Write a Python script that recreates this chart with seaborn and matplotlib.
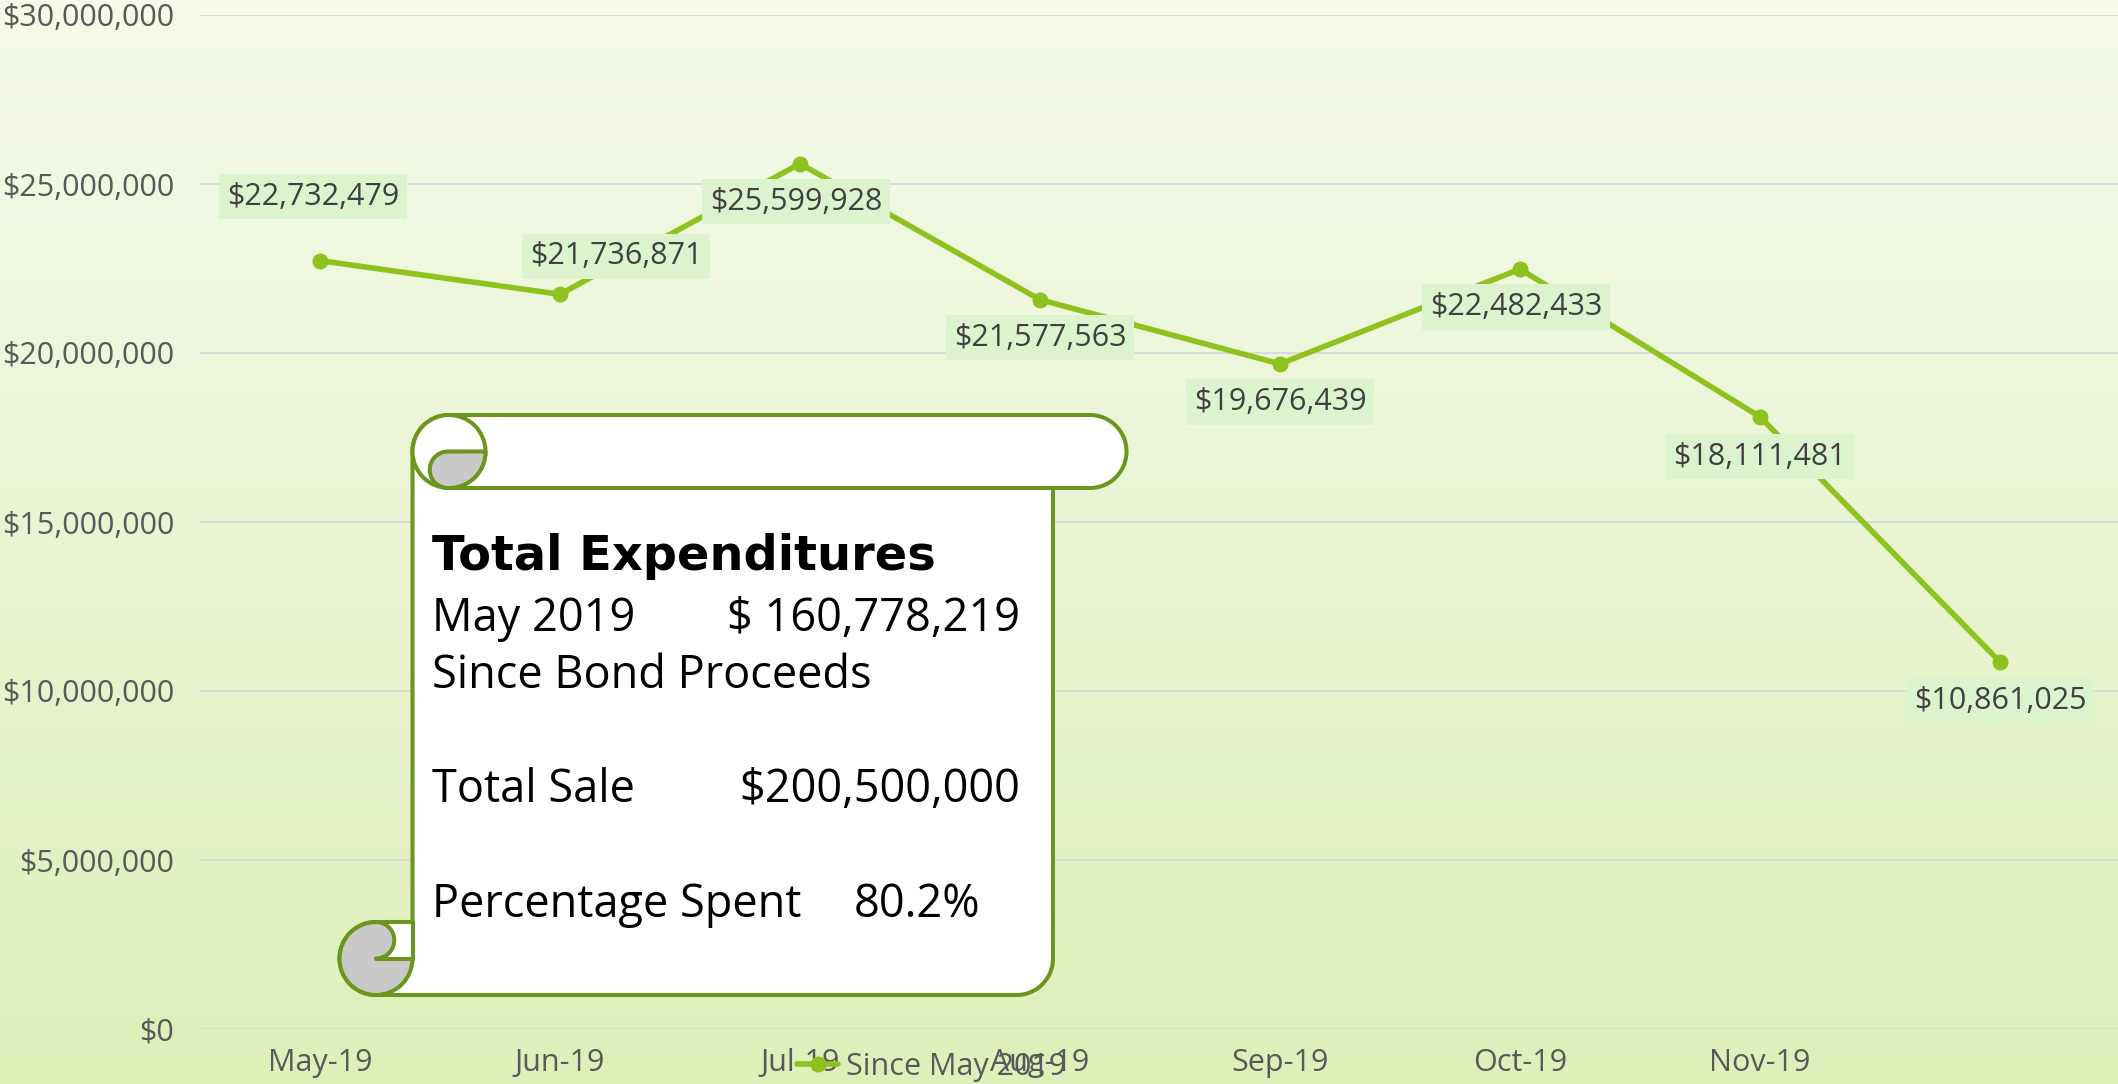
import numpy as np
import pandas as pd
import matplotlib
matplotlib.use("Agg")
import matplotlib.pyplot as plt
import seaborn as sns
from matplotlib.patches import Polygon, Circle

# dati del grafico
months = ["May-19", "Jun-19", "Jul-19", "Aug-19", "Sep-19", "Oct-19", "Nov-19", ""]
spent = [22732479, 21736871, 25599928, 21577563, 19676439, 22482433, 18111481, 10861025]
series_name = "Since May 2019"
y_ticks = [0, 5000000, 10000000, 15000000, 20000000, 25000000, 30000000]

# testo del riquadro (pergamena)
scroll_title = "Total Expenditures"
scroll_left = ["May 2019", "Since Bond Proceeds", "Total Sale", "Percentage Spent"]
scroll_right = ["$ 160,778,219", "", "$200,500,000", "80.2%"]

# posizione delle etichette rispetto al punto (pixel)
label_offsets = [(-7, 64), (56, 38), (-4, -38), (0, -38), (0, -38), (-4, -38), (0, -40), (0, -39)]

LINE = "#8DC21F"
GREEN = "#6B961E"
GREY_CURL = "#C9C9C9"
TICK_COL = "#595959"
W, H = 2118, 1084

sns.set_style("white")
plt.rcParams["font.family"] = ["Open Sans", "DejaVu Sans"]

fig = plt.figure(figsize=(W / 100, H / 100), dpi=100)

# sfondo sfumato
ax_bg = fig.add_axes([0, 0, 1, 1], zorder=0)
top = np.array([245, 250, 234]) / 255
bottom = np.array([222, 239, 186]) / 255
t = np.linspace(0, 1, 256)[:, None, None]
grad = top * (1 - t) + bottom * t
ax_bg.imshow(grad, aspect="auto", extent=[0, 1, 0, 1])
ax_bg.axis("off")

# grafico principale
ax = fig.add_axes([200 / W, (H - 1029) / H, 1920 / W, 1014 / H], zorder=1)
ax.set_facecolor("none")

df = pd.DataFrame({"month": months, "spent": spent})
sns.lineplot(data=df, x="month", y="spent", marker="o", color=LINE, linewidth=4,
             markersize=11.5, markeredgewidth=0, sort=False, label=series_name, ax=ax)

ax.set_xlim(-0.5, 7.5)
ax.set_ylim(0, 30000000)
ax.set_yticks(y_ticks)
ax.set_yticklabels([f"${v:,.0f}" for v in y_ticks])
ax.set_xlabel("")
ax.set_ylabel("")
for s in ax.spines.values():
    s.set_visible(False)
ax.yaxis.grid(True, color="#D9D9D9", linewidth=1.4)
ax.xaxis.grid(False)
ax.set_axisbelow(True)
ax.tick_params(axis="y", length=0, pad=18.5, labelsize=22, labelcolor=TICK_COL)
ax.tick_params(axis="x", length=0, pad=14, labelsize=22, labelcolor=TICK_COL)

for i, (v, off) in enumerate(zip(spent, label_offsets)):
    ax.annotate(f"${v:,.0f}", (i, v), xytext=off, textcoords="offset pixels",
                ha="center", va="center", fontsize=22, color="#404040",
                bbox=dict(boxstyle="square,pad=0.25", fc="#DCF4CD", ec="none"))

handles, labels = ax.get_legend_handles_labels()
ax.get_legend().remove()
fig.legend(handles, labels, loc="center left", bbox_to_anchor=(797 / W, 17 / H),
           frameon=False, borderpad=0, borderaxespad=0, handlelength=1.35,
           handletextpad=0.25, fontsize=22, labelcolor=TICK_COL)

# pergamena sovrapposta (coordinate in pixel)
ov = fig.add_axes([0, 0, 1, 1], zorder=2)
ov.set_xlim(0, W)
ov.set_ylim(H, 0)
ov.axis("off")


def arc(cx, cy, r, a0, a1, n=60):
    a = np.radians(np.linspace(a0, a1, n))
    return np.column_stack([cx + r * np.cos(a), cy + r * np.sin(a)])


r = 36.5
rs = r / 2
L, R, T, B, RE = 412.5, 1053, 415, 995, 1126.5
B1 = T + 2 * r
c1 = (L + r, T + r)
c2 = (RE - r, T + r)
c3 = (L - r, B - r)
lw = 2.9

outer = np.vstack([
    [[c1[0], T], [c2[0], T]],
    arc(c2[0], c2[1], r, -90, 90),
    [[R, B1], [R, B - r]],
    arc(R - r, B - r, r, 0, 90),
    [[c3[0], B]],
    arc(c3[0], c3[1], r, 90, 270),
    [[L, B - 2 * r]],
    arc(c1[0], c1[1], r, 180, 270),
])
ov.add_patch(Polygon(outer, closed=True, fc="white", ec=GREEN, lw=lw, joinstyle="round", zorder=1))
ov.plot([c1[0], R], [B1, B1], color=GREEN, lw=lw, zorder=2)

# ricciolo in alto
ov.add_patch(Circle(c1, r, fc="white", ec=GREEN, lw=lw, zorder=3))
s1 = (c1[0] - 1, B1 - rs)
curl_top = np.vstack([
    [[s1[0], s1[1] - rs], [c1[0] + r, s1[1] - rs]],
    arc(c1[0], c1[1], r, 0, 90),
    arc(s1[0], s1[1], rs, 90, 270),
])
ov.add_patch(Polygon(curl_top, closed=True, fc=GREY_CURL, ec=GREEN, lw=lw, joinstyle="round", zorder=4))

# ricciolo in basso
ov.add_patch(Circle(c3, r, fc=GREY_CURL, ec=GREEN, lw=lw, zorder=3))
s2 = (c3[0], B - 2 * r + rs)
notch = np.vstack([
    [[c3[0], B - 2 * r], [L, B - 2 * r], [L, c3[1]], [c3[0], c3[1]]],
    arc(s2[0], s2[1], rs, 90, -90),
])
ov.add_patch(Polygon(notch, closed=True, fc="white", ec="none", zorder=4))
sm = arc(s2[0], s2[1], rs, 90, -90)
ov.plot(sm[:, 0], sm[:, 1], color=GREEN, lw=lw, zorder=5)
ov.plot([c3[0], L, L, c3[0]], [B - 2 * r, B - 2 * r, c3[1], c3[1]], color=GREEN, lw=lw,
        solid_joinstyle="round", zorder=5)

# testo della pergamena
ov.text(432, 570, scroll_title, fontsize=34.5, fontweight="bold", family="DejaVu Sans",
        va="baseline", ha="left", color="black", zorder=6)
rows_y = [631, 688, 802, 917]
right_x = [1020, 1020, 1020, 854]
right_ha = ["right", "right", "right", "left"]
for txt, val, yy, xx, ha in zip(scroll_left, scroll_right, rows_y, right_x, right_ha):
    ov.text(432, yy, txt, fontsize=32.5, va="baseline", ha="left", color="black", zorder=6)
    if val:
        ov.text(xx, yy, val, fontsize=32.5, va="baseline", ha=ha, color="black", zorder=6)

fig.savefig("out.png", dpi=100)
